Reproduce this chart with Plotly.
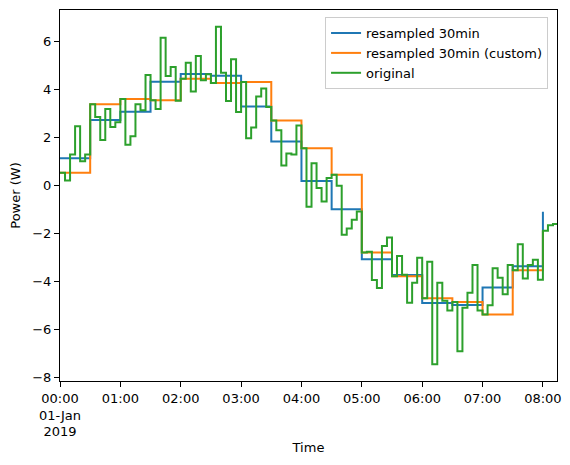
import pandas as pd
import plotly.graph_objects as go

# original 5-minute readings, 00:00 .. 08:15
power_w = [
    0.52, 0.19, 1.28, 2.46, 1.00, 1.28, 3.37, 2.84, 1.88, 3.17,
    2.42, 2.62, 3.59, 1.68, 2.04, 3.37, 3.12, 4.59, 3.54, 3.17,
    6.14, 4.55, 4.92, 3.52, 4.44, 5.10, 3.90, 5.38, 4.37, 4.62,
    4.26, 6.60, 4.68, 3.51, 5.25, 3.05, 4.30, 1.96, 2.40, 3.70,
    4.03, 3.26, 2.70, 2.29, 0.82, 1.32, 1.28, 2.49, 1.54, -0.90,
    0.91, -0.12, -0.68, 0.30, 0.43, -0.02, -2.07, -1.81, -1.44, -1.10,
    -2.81, -2.77, -3.95, -4.28, -2.53, -2.18, -3.79, -2.95, -3.73, -4.90,
    -4.07, -3.02, -4.71, -3.19, -7.46, -4.07, -4.82, -5.22, -4.87, -6.92,
    -5.11, -4.48, -3.33, -5.22, -5.39, -5.00, -3.46, -3.86, -4.55, -3.33,
    -3.55, -2.46, -3.89, -3.33, -3.11, -3.94, -1.90, -1.67, -1.62, 0.75,
]
start = "2019-01-01 00:00"
freq = "5min"

tick_times = pd.date_range(start, periods=9, freq="1h")
tick_labels = ["00:00<br>01-Jan<br>2019"] + [t.strftime("%H:%M") for t in tick_times[1:]]
y_ticks = [-8, -6, -4, -2, 0, 2, 4, 6]

s = pd.Series(power_w, index=pd.date_range(start, periods=len(power_w), freq=freq))
mean_30 = s.resample("30min").mean()
first_30 = s.resample("30min").first()

font = dict(family="DejaVu Sans", size=13, color="black")

fig = go.Figure()
fig.add_trace(go.Scatter(x=mean_30.index, y=mean_30.values, mode="lines",
                         line=dict(color="#1f77b4", width=2, shape="hv"),
                         name="resampled 30min"))
fig.add_trace(go.Scatter(x=first_30.index, y=first_30.values, mode="lines",
                         line=dict(color="#ff7f0e", width=2, shape="hv"),
                         name="resampled 30min (custom)"))
fig.add_trace(go.Scatter(x=s.index, y=s.values, mode="lines",
                         line=dict(color="#2ca02c", width=2, shape="hv"),
                         name="original"))

fig.update_layout(
    width=570, height=465,
    margin=dict(l=60, r=13, t=10, b=84),
    paper_bgcolor="white", plot_bgcolor="white",
    font=font,
    legend=dict(x=0.982, xanchor="right", y=0.981, yanchor="top",
                bgcolor="rgba(255,255,255,0.8)", bordercolor="#cccccc", borderwidth=1,
                font=font, tracegroupgap=0),
)
# the last vertical step sits under the right spine in the reference
x_end = s.index[-1] - pd.Timedelta("1min")
fig.update_xaxes(
    type="date", range=[s.index[0], x_end],
    tickvals=tick_times, ticktext=tick_labels,
    showgrid=False, zeroline=False, automargin=False,
    showline=True, linecolor="black", linewidth=1, mirror=True,
    ticks="outside", ticklen=5, tickcolor="black",
    title=dict(text="Time", standoff=4, font=font),
)
fig.update_yaxes(
    range=[-8.16, 7.30], tickvals=y_ticks,
    showgrid=False, zeroline=False, automargin=False,
    showline=True, linecolor="black", linewidth=1, mirror=True,
    ticks="outside", ticklen=5, tickcolor="black",
    title=dict(text="Power (W)", standoff=8, font=font),
)

# drop the browser's default page margin so the figure sits at (0, 0)
fig.write_html("out.html", config={"displayModeBar": False},
               post_script="document.body.style.margin='0';")
